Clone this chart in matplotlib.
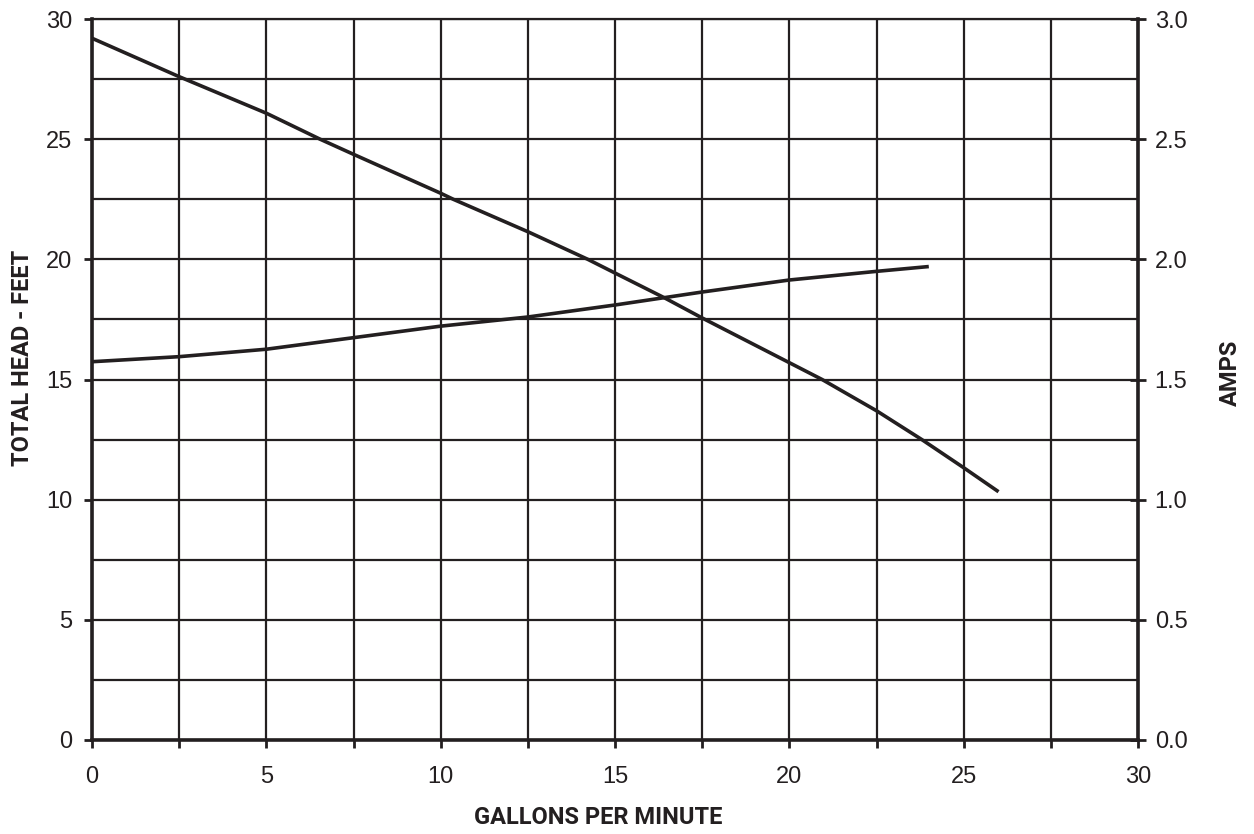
import matplotlib
matplotlib.use("Agg")
import matplotlib.pyplot as plt
from matplotlib.ticker import MultipleLocator, FormatStrFormatter

# pump curve
gpm = [0, 2.5, 5, 6.54, 7.5, 10, 10.36, 12.5, 14.22, 15, 16.43, 17.5, 20, 20.94, 22.5, 23.8, 25, 26]
head = [29.2, 27.6, 26.08, 25.0, 24.37, 22.75, 22.5, 21.15, 20.0, 19.43, 18.39, 17.56,
        15.7, 15.0, 13.7, 12.5, 11.33, 10.33]

gpm_amps = [0, 2.5, 5, 7.5, 10, 12.5, 15, 17.5, 20, 22.5, 24]
amps = [1.574, 1.595, 1.626, 1.674, 1.722, 1.76, 1.81, 1.864, 1.914, 1.95, 1.97]

ink = '#231f20'
plt.rcParams['font.family'] = ['Liberation Sans', 'DejaVu Sans']
label_font = dict(family=['Roboto', 'Liberation Sans'], weight='bold', size=17, color=ink)

fig = plt.figure(figsize=(12.54, 8.34), dpi=100)
ax = fig.add_axes([92/1254, 94/834, 1046/1254, 721/834])

ax.set_xlim(0, 30)
ax.set_ylim(0, 30)
ax.xaxis.set_major_locator(MultipleLocator(5))
ax.xaxis.set_minor_locator(MultipleLocator(2.5))
ax.yaxis.set_major_locator(MultipleLocator(5))
ax.yaxis.set_minor_locator(MultipleLocator(2.5))
ax.grid(True, which='both', color=ink, linewidth=1.6)
ax.set_axisbelow(True)

ax.tick_params(axis='x', which='both', direction='out', length=6, width=2, color=ink,
               labelsize=17, labelcolor=ink, pad=13)
ax.tick_params(axis='y', which='major', direction='out', length=6, width=2, color=ink,
               labelsize=17, labelcolor=ink, pad=8)
ax.tick_params(axis='y', which='minor', length=0)

for s in ['left', 'bottom', 'right']:
    ax.spines[s].set_linewidth(2.6)
    ax.spines[s].set_color(ink)
ax.spines['top'].set_linewidth(1.6)
ax.spines['top'].set_color(ink)

ax.plot(gpm, head, color=ink, linewidth=2.6, solid_capstyle='butt')

ax2 = ax.twinx()
ax2.set_ylim(0, 3.0)
ax2.yaxis.set_major_locator(MultipleLocator(0.5))
ax2.yaxis.set_major_formatter(FormatStrFormatter('%.1f'))
ax2.tick_params(axis='y', direction='inout', length=12, width=2, color=ink,
                labelsize=17, labelcolor=ink, pad=6)
for s in ax2.spines.values():
    s.set_visible(False)
ax2.plot(gpm_amps, amps, color=ink, linewidth=2.6, solid_capstyle='butt')

fig.text(598/1254, 1 - 818/834, 'GALLONS PER MINUTE', ha='center', va='center', **label_font)
fig.text(23/1254, 1 - 358/834, 'TOTAL HEAD - FEET', ha='center', va='center',
         rotation=90, **label_font)
fig.text(1230/1254, 1 - 373/834, 'AMPS', ha='center', va='center', rotation=90, **label_font)

fig.savefig('out.png', dpi=100)
